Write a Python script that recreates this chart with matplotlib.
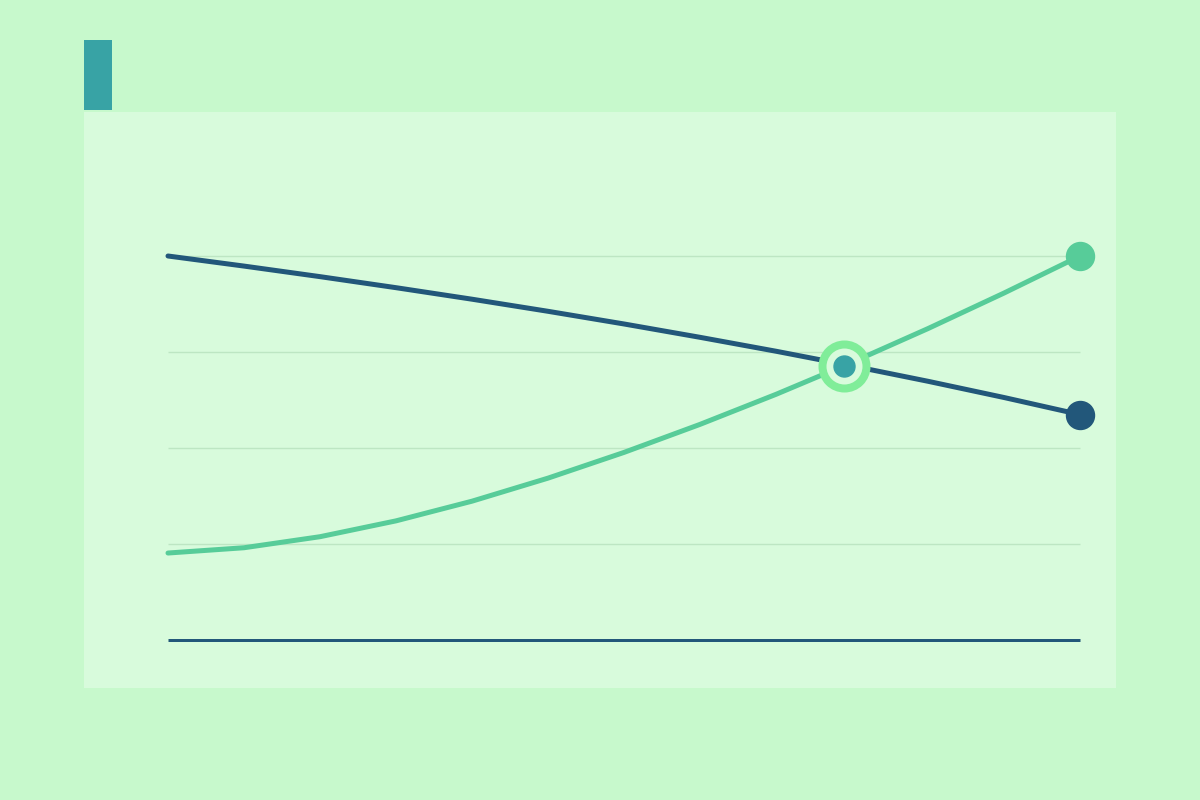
import matplotlib
matplotlib.use("Agg")
import matplotlib.pyplot as plt
from matplotlib.patches import Rectangle

# data
months = list(range(13))
dark_vals = [4.0, 3.895, 3.785, 3.670, 3.550, 3.424, 3.292, 3.153, 3.008, 2.855, 2.695, 2.526, 2.348]
green_vals = [0.906, 0.961, 1.076, 1.241, 1.446, 1.686, 1.954, 2.246, 2.559, 2.892, 3.244, 3.614, 4.0]
grid_vals = [1, 2, 3, 4]
cross_x = 8.89
cross_y = 2.854

BG = "#C7F9CC"
PANEL = "#D8FBDC"
DARK = "#22577A"
TEAL = "#38A3A5"
GREEN = "#57CC99"
LIGHT = "#80ED99"

px = 72 / 100  # points per pixel at dpi 100

fig = plt.figure(figsize=(12, 8), dpi=100, facecolor=BG)
# background panel and accent bar, kept behind the axes
fig.patches.append(Rectangle((0.07, 0.14), 0.86, 0.72, transform=fig.transFigure,
                             facecolor=PANEL, edgecolor="none", zorder=-2))
fig.patches.append(Rectangle((0.07, 0.8625), 28 / 1200, 0.0875, transform=fig.transFigure,
                             facecolor=TEAL, edgecolor="none", zorder=-2))

ax = fig.add_axes([168 / 1200, 0.2, 912 / 1200, 0.48])
ax.set_xlim(0, 12)
ax.set_ylim(0, 4)
ax.axis("off")

ax.hlines(grid_vals, 0, 12, color="#BDE6C3", linewidth=1.4 * px, zorder=1, clip_on=False)
ax.hlines([0], 0, 12, color=DARK, linewidth=3 * px, zorder=1, clip_on=False)

ax.plot(months, dark_vals, color=DARK, linewidth=5 * px, solid_capstyle="round",
        solid_joinstyle="round", zorder=3, clip_on=False)
ax.plot(months, green_vals, color=GREEN, linewidth=5 * px, solid_capstyle="round",
        solid_joinstyle="round", zorder=3, clip_on=False)

ax.plot(months[-1], dark_vals[-1], "o", color=DARK, markersize=28 * px, zorder=4, clip_on=False)
ax.plot(months[-1], green_vals[-1], "o", color=GREEN, markersize=28 * px, zorder=4, clip_on=False)

ax.plot(cross_x, cross_y, "o", markerfacecolor=PANEL, markeredgecolor=LIGHT,
        markeredgewidth=8 * px, markersize=44 * px, zorder=5, clip_on=False)
ax.plot(cross_x, cross_y, "o", color=TEAL, markersize=21 * px, zorder=6, clip_on=False)

fig.savefig("out.png", dpi=100, facecolor=BG)
